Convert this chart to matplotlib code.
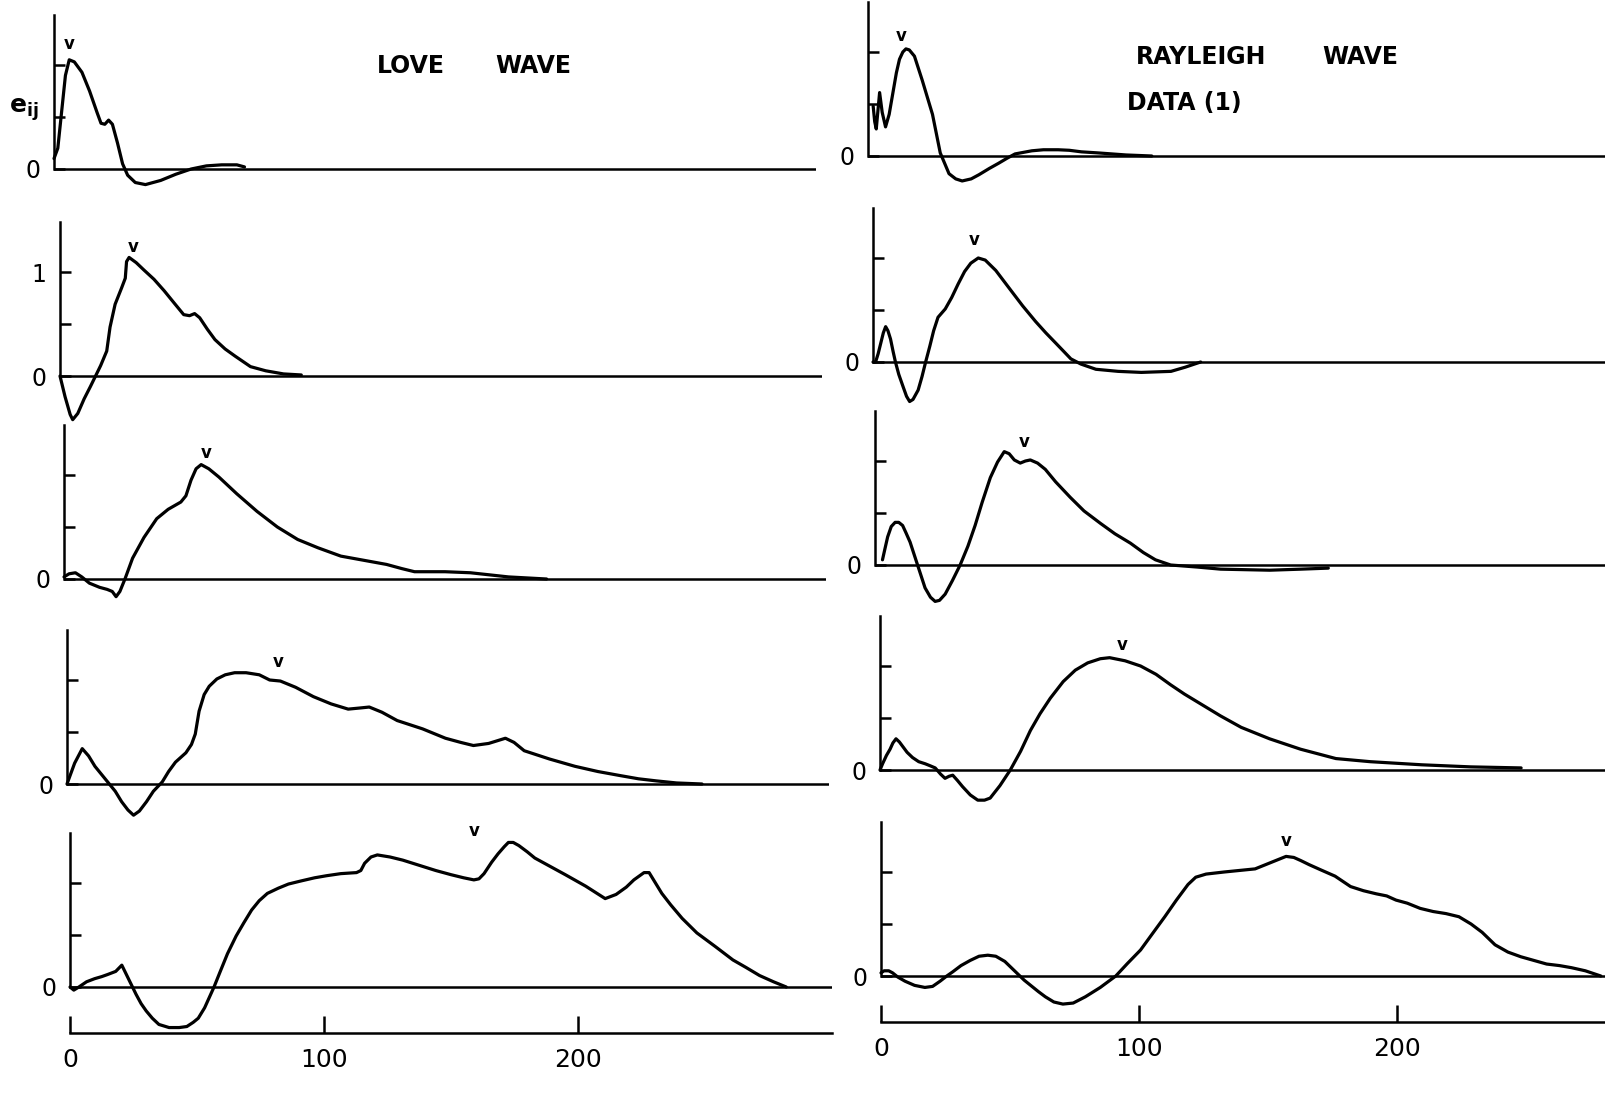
import matplotlib
matplotlib.use('Agg')
import matplotlib.pyplot as plt

W, H = 1606, 1094

# ---- Love wave traces (left column, top to bottom) ----
love1_x = [0, 1.5, 3, 4.5, 6, 8, 11, 14, 17, 18.5, 20, 21.5, 23, 25, 27, 29, 32, 36, 42, 48, 54, 60, 66, 72, 75]
love1_y = [0.1, 0.2, 0.55, 0.9, 1.05, 1.03, 0.93, 0.75, 0.54, 0.44, 0.43, 0.47, 0.43, 0.25, 0.05, -0.06, -0.13, -0.15, -0.11, -0.05, 0.0, 0.03, 0.04, 0.04, 0.02]

love2_x = [0, 2, 4, 5, 7, 9.5, 12, 14, 16, 18.4, 19.7, 21.7, 24.3, 25.7, 26.2, 27.2, 30, 33, 37, 41,
           45, 48.7, 51, 53, 55, 58, 61, 65, 69, 75, 81, 88, 95]
love2_y = [0, -0.2, -0.37, -0.42, -0.36, -0.22, -0.1, 0.0, 0.1, 0.24, 0.47, 0.69, 0.85, 0.94, 1.1, 1.14, 1.09, 1.02, 0.93, 0.82,
           0.7, 0.59, 0.58, 0.6, 0.56, 0.45, 0.35, 0.26, 0.19, 0.09, 0.05, 0.02, 0.01]

love3_x = [0, 2, 4.5, 7, 10, 14, 17, 19, 20.5, 22, 24, 27, 31.5, 36.5, 41, 46, 48, 50, 52, 54,
           57, 61, 68, 76, 84, 92, 100, 109, 118, 127, 133, 138, 150, 160, 175, 190]
love3_y = [0.02, 0.05, 0.06, 0.02, -0.04, -0.08, -0.1, -0.12, -0.17, -0.12, 0.0, 0.2, 0.4, 0.58, 0.67, 0.74, 0.8, 0.95, 1.06, 1.1,
           1.06, 0.98, 0.82, 0.65, 0.5, 0.38, 0.3, 0.22, 0.18, 0.14, 0.1, 0.07, 0.07, 0.06, 0.02, 0.0]

love4_x = [0, 3, 6, 8.5, 11, 14, 16, 19, 21.5, 24, 26.2, 28.5, 31.3, 34, 37.5, 40, 42.7, 46.8, 49, 50.5,
           52, 54, 56, 59, 62.3, 66, 70.5, 75.7, 79.8, 84, 90, 97, 104, 110.7, 115, 119, 124, 130, 140, 149,
           155, 160, 166, 172.6, 176, 180, 190, 200, 209, 218, 225, 232, 240, 250]
love4_y = [0, 0.2, 0.34, 0.27, 0.17, 0.08, 0.02, -0.07, -0.17, -0.25, -0.3, -0.26, -0.17, -0.07, 0.02, 0.12, 0.21, 0.3, 0.38, 0.48,
           0.7, 0.86, 0.94, 1.01, 1.05, 1.07, 1.07, 1.05, 1.0, 0.99, 0.93, 0.84, 0.77, 0.72, 0.73, 0.74, 0.69, 0.61, 0.53, 0.44,
           0.4, 0.37, 0.39, 0.44, 0.4, 0.32, 0.24, 0.17, 0.12, 0.08, 0.05, 0.03, 0.01, 0.0]

love5_x = [0, 1.5, 3.5, 6.5, 9.7, 12.5, 14.8, 18, 20.4, 22, 24, 26, 28, 30, 32.4, 35, 39, 43, 46, 48.5,
           50.5, 53, 56.7, 59, 62, 65.4, 68.5, 71.5, 74.5, 77.7, 82, 86, 91, 96.3, 101, 106.6, 112.8, 114.5, 116, 118.5,
           121, 126, 131, 137.5, 144, 150, 155, 159, 161, 163, 166, 168.5, 171, 172.6, 174.5, 176.7, 180, 183, 189, 195,
           203, 210.7, 215, 219, 222, 226, 228, 230, 233, 236.5, 241, 246.8, 254, 261, 266, 271.5, 277, 282]
love5_y = [0, -0.03, 0.0, 0.05, 0.08, 0.1, 0.12, 0.15, 0.21, 0.13, 0.03, -0.07, -0.16, -0.23, -0.3, -0.36, -0.39, -0.39, -0.38, -0.34,
           -0.3, -0.2, 0.0, 0.14, 0.32, 0.49, 0.62, 0.74, 0.83, 0.9, 0.95, 0.99, 1.02, 1.05, 1.07, 1.09, 1.1, 1.12, 1.19, 1.25,
           1.27, 1.25, 1.22, 1.17, 1.12, 1.08, 1.05, 1.03, 1.04, 1.09, 1.2, 1.28, 1.35, 1.39, 1.39, 1.36, 1.3, 1.24, 1.16, 1.08,
           0.97, 0.85, 0.89, 0.96, 1.03, 1.1, 1.1, 1.02, 0.9, 0.79, 0.66, 0.52, 0.39, 0.26, 0.19, 0.11, 0.05, 0.0]

# ---- Rayleigh wave traces (right column, top to bottom) ----
ray1_x = [2.0, 2.6, 3.2, 3.9, 4.5, 5.5, 6.8, 8.2, 9.6, 11, 12.2, 13.5, 14.7, 16, 18, 21, 25, 28, 31.4, 34,
          36.5, 40, 43, 47, 50.6, 54, 57, 63.5, 68, 73.7, 78, 82.7, 89, 100, 110]
ray1_y = [0.48, 0.33, 0.26, 0.45, 0.61, 0.42, 0.28, 0.4, 0.6, 0.8, 0.93, 1.0, 1.03, 1.02, 0.96, 0.73, 0.4, 0.03, -0.17, -0.22,
          -0.24, -0.22, -0.18, -0.12, -0.07, -0.02, 0.02, 0.05, 0.06, 0.06, 0.055, 0.04, 0.03, 0.01, 0.0]

ray2_x = [0, 1, 2, 3, 4, 4.9, 5.8, 6.8, 7.8, 8.7, 10, 11.7, 13, 14.2, 15.5, 17.5, 19, 20.4, 22, 23.5,
          25.2, 28, 30.5, 33, 35.5, 37.9, 40.8, 43.5, 47.6, 53.4, 58, 63, 67, 70.9, 74, 76.7, 80.6, 86.4, 95, 104,
          115.5, 121, 127]
ray2_y = [0, 0.0, 0.08, 0.18, 0.28, 0.34, 0.3, 0.22, 0.1, 0.0, -0.12, -0.24, -0.33, -0.38, -0.36, -0.27, -0.14, 0.0, 0.15, 0.3,
          0.43, 0.51, 0.62, 0.75, 0.87, 0.95, 1.0, 0.98, 0.88, 0.69, 0.54, 0.39, 0.28, 0.18, 0.1, 0.03, -0.02, -0.07, -0.09, -0.1,
          -0.09, -0.05, 0.0]

ray3_x = [2.9, 3.8, 4.9, 6.3, 7.8, 9.2, 10.7, 12, 13.6, 16.5, 19.4, 21.5, 23.3, 25, 27.2, 30, 33, 36, 38.8, 41.5,
          44.7, 47.5, 50.1, 52, 54, 56.3, 58.3, 60.2, 63, 66, 70, 75.7, 81, 87.4, 93, 99, 104, 108.7, 114.6, 125,
          134, 153, 165, 175.7]
ray3_y = [0.05, 0.15, 0.27, 0.37, 0.41, 0.41, 0.38, 0.31, 0.22, 0.0, -0.22, -0.31, -0.35, -0.34, -0.28, -0.15, 0.0, 0.18, 0.38, 0.6,
          0.84, 0.99, 1.09, 1.07, 1.01, 0.98, 1.0, 1.01, 0.98, 0.92, 0.8, 0.65, 0.52, 0.4, 0.3, 0.21, 0.12, 0.05, 0.0, -0.02,
          -0.04, -0.05, -0.04, -0.03]

ray4_x = [0, 1, 2.5, 3.9, 5, 6.2, 7.5, 8.7, 10.5, 12.6, 15, 17.5, 19.5, 21.4, 23.5, 25.2, 26.8, 28.2, 30, 32,
          35, 37.9, 40.5, 42.7, 46.5, 50.5, 54.5, 58.3, 62, 66, 71, 75.7, 80.5, 85.4, 89, 95, 101, 107, 112.6, 118,
          124, 132, 140, 151, 163, 176.7, 190, 210, 229, 248.5]
ray4_y = [0, 0.06, 0.14, 0.2, 0.26, 0.3, 0.27, 0.23, 0.17, 0.12, 0.08, 0.06, 0.04, 0.02, -0.04, -0.08, -0.06, -0.05, -0.1, -0.16,
          -0.24, -0.29, -0.29, -0.27, -0.15, 0.0, 0.18, 0.38, 0.54, 0.69, 0.85, 0.96, 1.03, 1.07, 1.08, 1.05, 1.0, 0.92, 0.82, 0.73,
          0.64, 0.52, 0.41, 0.3, 0.2, 0.11, 0.08, 0.05, 0.03, 0.02]

ray5_x = [0, 1.2, 3, 4.5, 6.5, 9.3, 13, 17, 20, 22.9, 25.5, 27.8, 31, 34.6, 38, 41.4, 44.5, 48, 50.5, 53,
          55.5, 58, 61, 63.7, 67, 70.5, 74.5, 79.2, 85, 91, 95.5, 100.6, 105, 110, 114.5, 119, 122, 126, 133, 141,
          145, 149, 153, 157, 160, 162.7, 166, 170.5, 176, 182, 187, 192, 196, 199.6, 204, 209, 214, 219, 224, 228.7,
          233, 238, 243, 248, 253, 258, 263, 267.6, 273, 279]
ray5_y = [0.03, 0.05, 0.05, 0.03, -0.01, -0.05, -0.09, -0.11, -0.1, -0.05, 0.0, 0.04, 0.1, 0.15, 0.19, 0.2, 0.19, 0.14, 0.08, 0.02,
          -0.04, -0.09, -0.15, -0.2, -0.25, -0.27, -0.26, -0.2, -0.11, 0.0, 0.12, 0.25, 0.4, 0.57, 0.73, 0.88, 0.95, 0.98, 1.0, 1.02,
          1.03, 1.07, 1.11, 1.15, 1.14, 1.11, 1.07, 1.02, 0.96, 0.86, 0.82, 0.79, 0.77, 0.73, 0.7, 0.65, 0.62, 0.6, 0.57, 0.5,
          0.42, 0.3, 0.23, 0.185, 0.15, 0.115, 0.1, 0.08, 0.05, 0.0]

# "v" marks above the peaks
love_peak_x = [6, 29, 56, 83, 159]
love_peak_y = [1.2, 1.24, 1.21, 1.17, 1.5]
ray_peak_x = [12.8, 39.4, 57.7, 94, 157]
ray_peak_y = [1.15, 1.17, 1.18, 1.2, 1.3]

y_ticks = [0, 0.5, 1.0]
x_ticks = [0, 100, 200]
x_tick_labels = ['0', '100', '200']

plt.rcParams['font.family'] = ['DejaVu Sans']
plt.rcParams['mathtext.fontset'] = 'dejavusans'

fig = plt.figure(figsize=(W / 100, H / 100), dpi=100)

PX_Y = 104.0           # pixels per unit of e_ij
Y_LO, Y_HI = -0.5, 1.6
SPINE_TOP = 1.48
LW_AX = 1.8
LW_CURVE = 2.3


def add_panel(left_px, zero_px, px_per_x, x_max, xs, ys, peak, one_label=False, bottom=False):
    width = x_max * px_per_x
    bot = zero_px - Y_LO * PX_Y
    height = (Y_HI - Y_LO) * PX_Y
    ax = fig.add_axes([left_px / W, 1 - bot / H, width / W, height / H])
    ax.patch.set_alpha(0)
    ax.set_xlim(0, x_max)
    ax.set_ylim(Y_LO, Y_HI)

    for s in ['top', 'right']:
        ax.spines[s].set_visible(False)
    ax.spines['left'].set_bounds(0, SPINE_TOP)
    ax.spines['left'].set_linewidth(LW_AX)

    ax.set_yticks(y_ticks, ['0', '', '1' if one_label else ''])
    ax.tick_params(axis='y', direction='in', length=8, width=LW_AX, pad=10, labelsize=17)

    ax.axhline(0, color='black', lw=LW_AX)
    ax.plot(xs, ys, color='black', lw=LW_CURVE, solid_joinstyle='round',
            solid_capstyle='round', clip_on=False)
    ax.text(peak[0], peak[1], 'v', ha='center', va='center',
            fontsize=12, fontweight='bold')

    if bottom:
        ax.spines['bottom'].set_position(('data', -0.44))
        ax.spines['bottom'].set_bounds(0, x_max)
        ax.spines['bottom'].set_linewidth(LW_AX)
        ax.set_xticks(x_ticks, x_tick_labels)
        ax.tick_params(axis='x', direction='in', length=12, width=LW_AX, pad=11, labelsize=18)
    else:
        ax.spines['bottom'].set_visible(False)
        ax.set_xticks([])
    return ax


love_traces = [(love1_x, love1_y), (love2_x, love2_y), (love3_x, love3_y),
               (love4_x, love4_y), (love5_x, love5_y)]
ray_traces = [(ray1_x, ray1_y), (ray2_x, ray2_y), (ray3_x, ray3_y),
              (ray4_x, ray4_y), (ray5_x, ray5_y)]

# panel placement in pixels (spine x, zero line y) - follows the slightly skewed scan
love_left = [54, 60, 64, 67, 70]
love_zero = [169, 376, 579, 784, 987]
ray_left = [868, 873, 875, 880, 881]
ray_zero = [156, 362, 565, 770, 976]

for i in range(5):
    add_panel(love_left[i], love_zero[i], 2.54, 300, love_traces[i][0], love_traces[i][1],
              (love_peak_x[i], love_peak_y[i]), one_label=(i == 1), bottom=(i == 4))
    x_max_r = (W - ray_left[i]) / 2.58
    add_panel(ray_left[i], ray_zero[i], 2.58, x_max_r, ray_traces[i][0], ray_traces[i][1],
              (ray_peak_x[i], ray_peak_y[i]), bottom=(i == 4))

# labels
fig.text(24 / W, 1 - 110 / H, r'$\mathbf{e_{ij}}$', ha='center', va='center', fontsize=18)
fig.text(411 / W, 1 - 66 / H, 'LOVE', ha='center', va='center', fontsize=17, fontweight='bold')
fig.text(533 / W, 1 - 66 / H, 'WAVE', ha='center', va='center', fontsize=17, fontweight='bold')
fig.text(1201 / W, 1 - 57 / H, 'RAYLEIGH', ha='center', va='center', fontsize=17, fontweight='bold')
fig.text(1360 / W, 1 - 57 / H, 'WAVE', ha='center', va='center', fontsize=17, fontweight='bold')
fig.text(1127 / W, 1 - 103 / H, 'DATA (1)', ha='left', va='center', fontsize=17, fontweight='bold')

fig.savefig('out.png', dpi=100)
